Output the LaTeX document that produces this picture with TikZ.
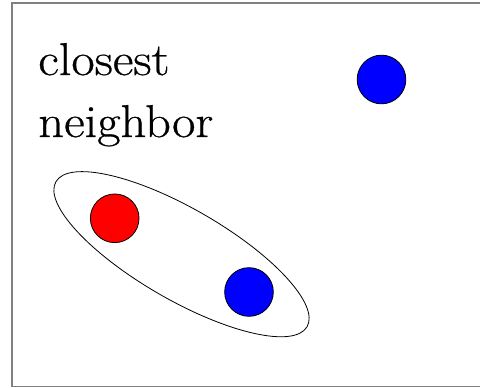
\documentclass[tikz,border=0pt]{standalone}
\usepackage{fontspec}
\newfontfamily\lblfont{Latin Modern Roman}[FakeStretch=1.1,FakeBold=0.6]
\begin{document}
\begin{tikzpicture}[x=0.75pt,y=-0.75pt,
  dot/.style={circle,draw=black,line width=0.6pt,minimum size=36.5pt,inner sep=0pt},
  lbl/.style={anchor=base west,inner sep=0pt,font=\lblfont\fontsize{34.5}{40}\selectfont},
  frame/.style={draw=black!50,line width=1.2pt}]
\useasboundingbox (0,0) rectangle (480,388);
\clip (0,0) rectangle (480,388);
\draw[frame] (12,3) rectangle (490,386.5);
\node[lbl] (t1) at (38,75) {closest};
\node[lbl] (t2) at (38,137) {neighbor};
\node[dot,fill=blue] (b1) at (381.5,79.5) {};
\node[dot,fill=red] (r) at (114.7,218.3) {};
\node[dot,fill=blue] (b2) at (249,292) {};
\draw[black,line width=0.6pt,rotate around={-30:(181.5,254.2)}] (181.5,254.2) ellipse [x radius=145, y radius=45.6];
\end{tikzpicture}
\end{document}
